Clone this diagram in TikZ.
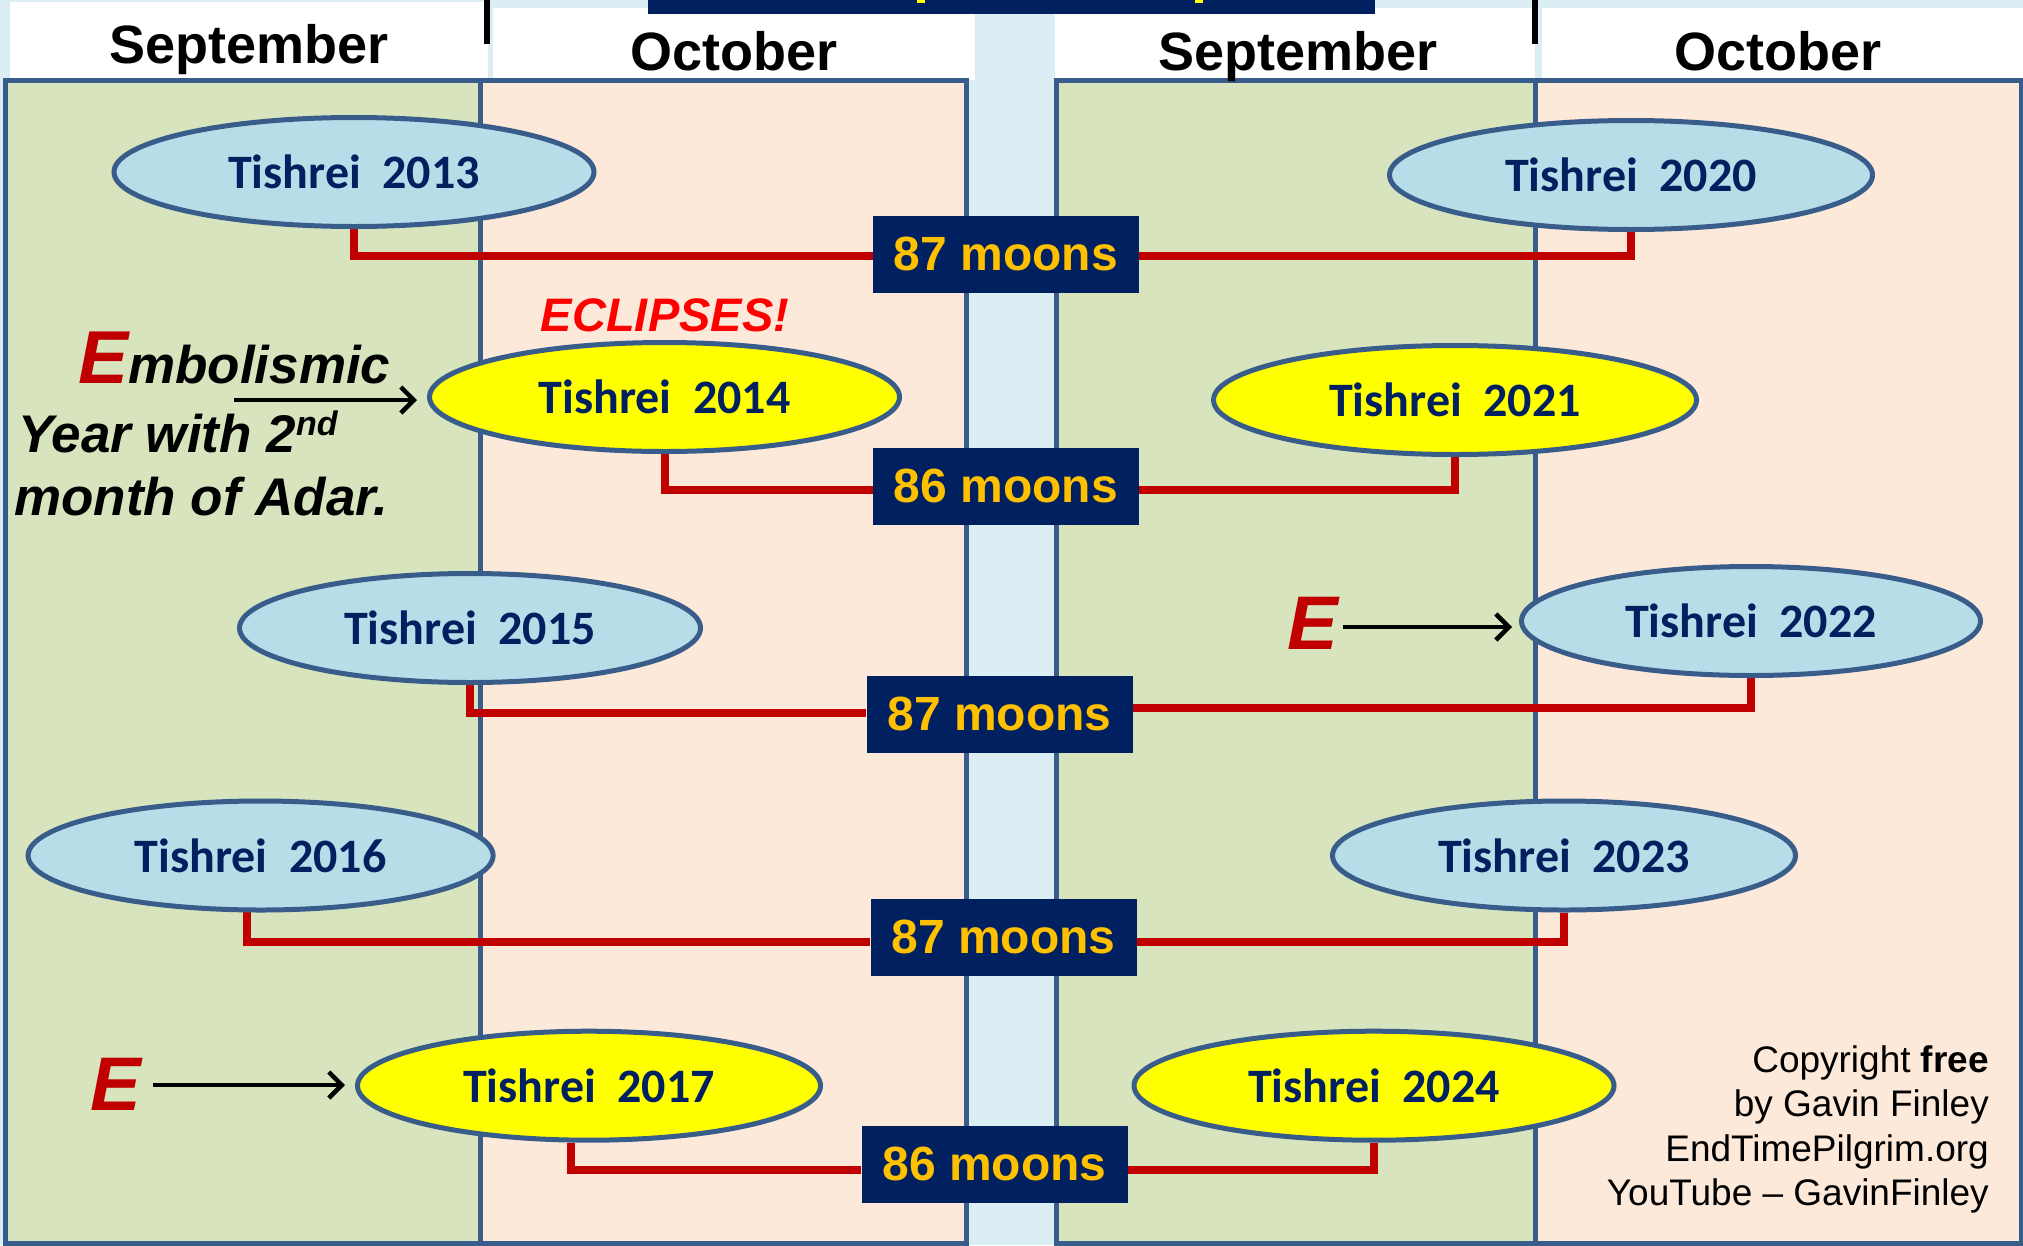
\documentclass[tikz,border=0pt]{standalone}
\usepackage{fontspec}
\setmainfont{Liberation Sans}
\newfontfamily\carlito{Carlito}
\usetikzlibrary{shapes.geometric,arrows.meta}
\pgfdeclarelayer{bg}\pgfdeclarelayer{mid}\pgfsetlayers{bg,mid,main}
\definecolor{lane}{HTML}{DAEEF3}
\definecolor{grn}{HTML}{D7E4BD}
\definecolor{pch}{HTML}{FDE9D9}
\definecolor{bord}{HTML}{385D8A}
\definecolor{skyb}{HTML}{B7DEE8}
\definecolor{navyb}{HTML}{002060}
\definecolor{gold}{HTML}{FFC000}
\definecolor{redc}{HTML}{C00000}
\definecolor{redE}{HTML}{FF0000}
\definecolor{yel}{HTML}{FFFF00}
\newcommand\myfs[1]{\fontsize{#1}{#1}\selectfont}
\begin{document}
\begin{tikzpicture}[x=1pt,y=-1pt,
  ell/.style={ellipse, draw=bord, line width=5pt, minimum height=109pt, inner sep=0pt,
    text=navyb, font=\carlito\bfseries\myfs{48}},
  blueell/.style={ell, fill=skyb},
  yelell/.style={ell, fill=yel},
  moons/.style={fill=navyb, text=gold, font=\bfseries\myfs{48}, minimum width=266pt,
    minimum height=77pt, inner sep=0pt},
  conn/.style={draw=redc, line width=8pt},
  pointer/.style={draw=black, line width=4.5pt, -{Straight Barb[length=13pt,width=26pt]}},
  mon/.style={font=\bfseries\myfs{54}, anchor=base, inner sep=0pt},
  bigE/.style={anchor=base west, inner sep=0pt, text=redc, font=\bfseries\itshape\myfs{76}},
  bi/.style={anchor=base west, inner sep=0pt, font=\bfseries\itshape\myfs{53}},
]
\useasboundingbox (0,0) rectangle (2023,1245);
\begin{pgfonlayer}{bg}
  \fill[lane] (0,0) rectangle (2023,1245);
  % header boxes
  \fill[white] (10,2) rectangle (488,80);
  \fill[white] (493,8) rectangle (975,80);
  \fill[white] (1055,8) rectangle (1535,80);
  \fill[white] (1542,8) rectangle (2023,80);
  \fill[navyb] (648,0) rectangle (1375,14);
  \fill[yel] (917,0) rectangle (925,2.5);
  \fill[yel] (1195,0) rectangle (1203,2.5);
  % panels
  \fill[grn] (5,80) rectangle (480,1243);
  \fill[pch] (480,80) rectangle (966,1243);
  \fill[grn] (1056,80) rectangle (1535,1243);
  \fill[pch] (1535,80) rectangle (2021,1243);
  \draw[bord, line width=5pt] (5,80) rectangle (966,1243) (480,80) -- (480,1243);
  \draw[bord, line width=5pt] (1056,80) rectangle (2021,1243) (1535,80) -- (1535,1243);
  \draw[line width=6pt] (487,0) -- (487,44) (1535,0) -- (1535,44);
\end{pgfonlayer}

% month headers
\node[mon] (h1) at (249,63) {September};
\node[mon] (h2) at (734,70) {October};
\node[mon] (h3) at (1298,70) {September};
\node[mon] (h4) at (1778,70) {October};

% Tishrei ellipses
\node[blueell, minimum width=480pt] (e13) at (354,172) {Tishrei\ \ 2013};
\node[blueell, minimum width=483pt] (e20) at (1631,175) {Tishrei\ \ 2020};
\node[yelell,  minimum width=470pt] (e14) at (664.5,397) {Tishrei\ \ 2014};
\node[yelell,  minimum width=483pt] (e21) at (1455,400) {Tishrei\ \ 2021};
\node[blueell, minimum width=461pt] (e15) at (470,628) {Tishrei\ \ 2015};
\node[blueell, minimum width=459pt] (e22) at (1751,621) {Tishrei\ \ 2022};
\node[blueell, minimum width=465pt] (e16) at (260.6,855.5) {Tishrei\ \ 2016};
\node[blueell, minimum width=463pt] (e23) at (1564,855.5) {Tishrei\ \ 2023};
\node[yelell,  minimum width=463pt] (e17) at (589,1085.7) {Tishrei\ \ 2017};
\node[yelell,  minimum width=480pt] (e24) at (1374,1085.7) {Tishrei\ \ 2024};

% moons boxes
\node[moons] (m1) at (1006,254) {87 moons};
\node[moons] (m2) at (1006,486) {86 moons};
\node[moons] (m3) at (999.5,714) {87 moons};
\node[moons] (m4) at (1003.5,937) {87 moons};
\node[moons] (m5) at (994.5,1164) {86 moons};

% red connectors
\begin{pgfonlayer}{mid}
  \draw[conn] (e13.south) |- ([yshift=-1.5pt]m1.west);
  \draw[conn] ([yshift=-1.5pt]m1.east) -| (e20.south);
  \draw[conn] (e14.south) |- ([yshift=-4pt]m2.west);
  \draw[conn] ([yshift=-4pt]m2.east) -| (e21.south);
  \draw[conn] (e15.south) |- ([yshift=1pt]m3.west);
  \draw[conn] ([yshift=6pt]m3.east) -| (e22.south);
  \draw[conn] (e16.257.5) |- ([yshift=-5pt]m4.west);
  \draw[conn] ([yshift=-5pt]m4.east) -| (e23.south);
  \draw[conn] (e17.252.5) |- ([yshift=-6pt]m5.west);
  \draw[conn] ([yshift=-6pt]m5.east) -| (e24.south);
\end{pgfonlayer}

% ECLIPSES!
\node[anchor=base, inner sep=0pt, text=redE, font=\bfseries\itshape\myfs{47}] (ecl) at (665,331) {ECLIPSES!};

% Embolismic note
\node[anchor=base west, inner sep=0pt, font=\bfseries\itshape] (emb) at (78,383)
  {{\color{redc}\myfs{75}E}{\myfs{53}mbolismic}};
\node[bi] (yr) at (18,452) {Year with 2\raisebox{17pt}{\myfs{34}nd}};
\node[bi] (mo) at (14,515) {month of Adar.};
\coordinate (a1) at (234,400);
\draw[pointer, shorten >=10pt] (a1) -- (a1 -| e14.west);

% E markers
\node[bigE] (E1) at (90,1110) {E};
\coordinate (a2) at (153,1085);
\draw[pointer, shorten >=10pt] (a2) -- (a2 -| e17.west);
\node[bigE] (E2) at (1287,649) {E};
\coordinate (a3) at (1343,627);
\draw[pointer, shorten >=7pt] (a3) -- (a3 -| e22.west);

% copyright
\node[anchor=north east, inner sep=0pt, align=right, font=\fontsize{37}{44.5}\selectfont] (copy) at (1989,1045)
  {Copyright \textbf{free}\\by Gavin Finley\\EndTimePilgrim.org\\YouTube -- GavinFinley};
\end{tikzpicture}
\end{document}
